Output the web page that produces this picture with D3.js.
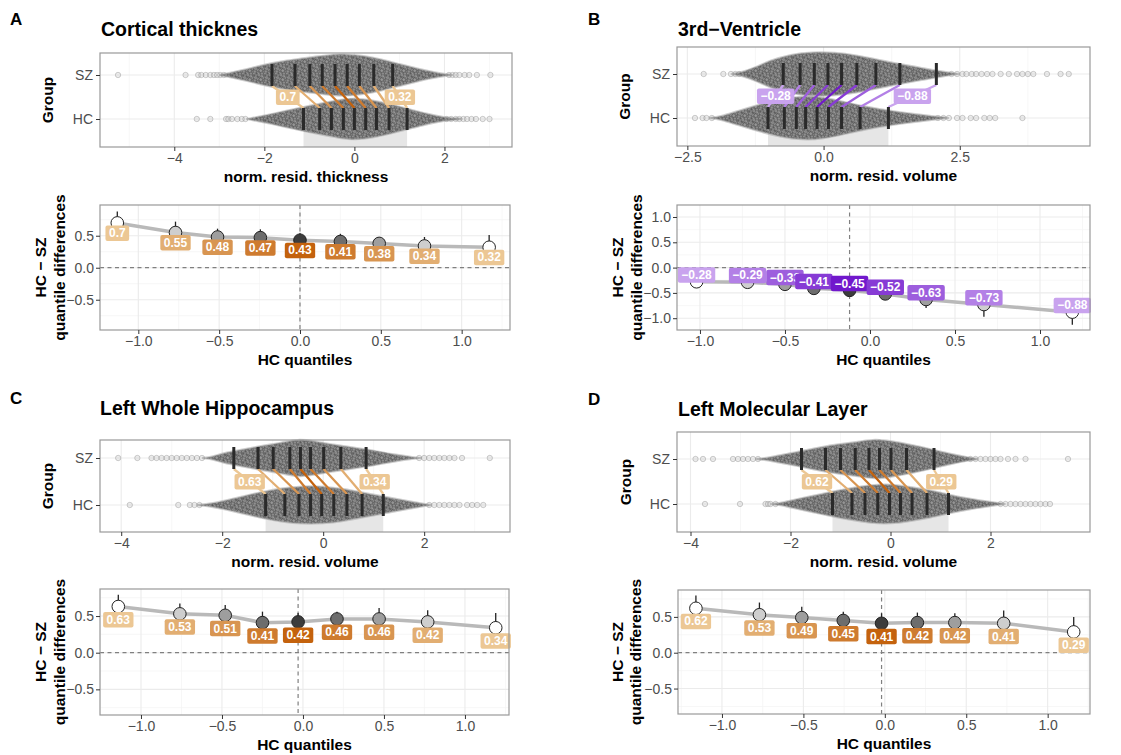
<!DOCTYPE html>
<html>
<head>
<meta charset="utf-8">
<script src="https://cdn.jsdelivr.net/npm/d3@7"></script>
<style>
  body { margin: 0; background: #fff; }
  svg { font-family: "Liberation Sans", Arial, Helvetica, sans-serif; }
</style>
</head>
<body>
<svg id="fig" width="1121" height="755"></svg>
<script>
// ---- data ----
var groups = ["SZ", "HC"];

// A: cortical thickness
var hcA = [-1.13, -0.77, -0.51, -0.245, 0.0, 0.25, 0.49, 0.77, 1.17];
var diffA = [0.7, 0.55, 0.48, 0.47, 0.43, 0.41, 0.38, 0.34, 0.32];
var ciLoA = [0.53, 0.41, 0.38, 0.38, 0.34, 0.32, 0.28, 0.21, 0.16];
var ciHiA = [0.88, 0.72, 0.61, 0.60, 0.54, 0.53, 0.48, 0.48, 0.51];
var szProfA = [[-3.0,0],[-2.9,0.05],[-2.5,0.22],[-2.0,0.5],[-1.5,0.7],[-1.0,0.84],[-0.5,0.97],[-0.2,1.0],[0.2,0.92],[0.6,0.75],[1.0,0.52],[1.4,0.3],[1.8,0.12],[2.1,0.03],[2.2,0]];
var hcProfA = [[-2.4,0],[-2.3,0.04],[-1.8,0.25],[-1.3,0.5],[-0.8,0.72],[-0.3,0.92],[0.0,1.0],[0.4,0.9],[0.8,0.7],[1.2,0.48],[1.6,0.25],[2.0,0.08],[2.3,0.03],[2.4,0]];
var szOutA = [-5.25, -3.75, -3.47, -3.4, -3.3, -3.2, -3.12, -3.05, -2.98, -2.9, 2.1, 2.18, 2.25, 2.33, 2.45, 2.55, 2.72, 3.02];
var hcOutA = [-3.5, -3.2, -2.85, -2.8, -2.72, -2.6, -2.5, -2.42, 2.05, 2.15, 2.25, 2.33, 2.42, 2.5, 2.6, 2.7, 2.85, 3.0];

// B: 3rd ventricle
var hcB = [-1.02, -0.72, -0.5, -0.33, -0.12, 0.09, 0.33, 0.67, 1.19];
var diffB = [-0.28, -0.29, -0.33, -0.41, -0.45, -0.52, -0.63, -0.73, -0.88];
var ciLoB = [-0.4, -0.38, -0.42, -0.5, -0.53, -0.62, -0.8, -0.97, -1.13];
var ciHiB = [-0.16, -0.2, -0.25, -0.33, -0.38, -0.44, -0.5, -0.55, -0.68];
var szProfB = [[-1.7,0],[-1.5,0.08],[-1.25,0.3],[-1.0,0.6],[-0.6,0.9],[-0.2,1.0],[0.2,0.98],[0.6,0.85],[1.0,0.65],[1.4,0.45],[1.8,0.28],[2.2,0.1],[2.5,0]];
var hcProfB = [[-2.1,0],[-1.9,0.06],[-1.6,0.3],[-1.2,0.6],[-0.8,0.86],[-0.4,1.0],[0.0,0.95],[0.4,0.72],[0.8,0.5],[1.2,0.33],[1.6,0.2],[2.0,0.08],[2.3,0]];
var szOutB = [-2.2, -1.84, -1.7, -1.62, -1.55, 2.35, 2.45, 2.55, 2.62, 2.72, 2.8, 2.9, 3.0, 3.1, 3.25, 3.4, 3.55, 3.65, 3.75, 3.85, 4.1, 4.35, 4.5];
var hcOutB = [-2.36, -2.22, -2.15, -2.05, 2.1, 2.2, 2.3, 2.45, 2.55, 2.7, 2.8, 2.95, 3.05, 3.15, 3.65];

// C: left whole hippocampus
var hcC = [-1.14, -0.76, -0.48, -0.25, -0.03, 0.21, 0.47, 0.77, 1.19];
var diffC = [0.63, 0.53, 0.51, 0.41, 0.42, 0.46, 0.46, 0.42, 0.34];
var ciLoC = [0.5, 0.42, 0.4, 0.31, 0.32, 0.36, 0.34, 0.28, 0.2];
var ciHiC = [0.79, 0.67, 0.65, 0.56, 0.54, 0.56, 0.61, 0.58, 0.54];
var szProfC = [[-2.4,0],[-2.2,0.06],[-2.0,0.25],[-1.6,0.45],[-1.2,0.65],[-0.8,0.82],[-0.5,1.0],[-0.2,0.9],[0.2,0.7],[0.6,0.55],[1.0,0.4],[1.4,0.18],[1.8,0.04],[1.95,0]];
var hcProfC = [[-2.5,0],[-2.3,0.05],[-2.0,0.2],[-1.6,0.45],[-1.2,0.7],[-0.8,0.9],[-0.4,1.0],[0.0,0.98],[0.4,0.85],[0.8,0.65],[1.2,0.45],[1.6,0.25],[2.0,0.06],[2.15,0]];
var szOutC = [-4.06, -3.68, -3.4, -3.3, -3.2, -3.1, -3.0, -2.9, -2.8, -2.7, -2.6, -2.5, -2.4, 1.9, 2.0, 2.1, 2.2, 2.3, 2.4, 2.5, 2.6, 2.75, 3.3];
var hcOutC = [-3.83, -2.87, -2.64, -2.55, -2.45, 2.1, 2.2, 2.3, 2.4, 2.5, 2.6, 2.7, 2.85, 2.95, 3.05, 3.17];

// D: left molecular layer
var hcD = [-1.16, -0.77, -0.51, -0.255, -0.02, 0.2, 0.43, 0.73, 1.16];
var diffD = [0.62, 0.53, 0.49, 0.45, 0.41, 0.42, 0.42, 0.41, 0.29];
var ciLoD = [0.48, 0.4, 0.37, 0.34, 0.3, 0.3, 0.3, 0.26, 0.14];
var ciHiD = [0.8, 0.7, 0.64, 0.57, 0.55, 0.56, 0.55, 0.59, 0.5];
var szProfD = [[-2.7,0],[-2.5,0.05],[-2.2,0.2],[-1.8,0.38],[-1.4,0.6],[-1.0,0.75],[-0.6,0.88],[-0.3,1.0],[0.0,0.9],[0.4,0.72],[0.8,0.5],[1.2,0.25],[1.6,0.06],[1.75,0]];
var hcProfD = [[-2.4,0],[-2.2,0.05],[-2.0,0.18],[-1.6,0.38],[-1.2,0.6],[-0.8,0.8],[-0.4,0.95],[0.0,1.0],[0.4,0.85],[0.8,0.68],[1.2,0.45],[1.6,0.25],[2.0,0.1],[2.3,0]];
var szOutD = [-3.9, -3.75, -3.55, -3.15, -3.05, -2.95, -2.85, -2.75, -2.65, 1.6, 1.7, 1.8, 1.9, 2.0, 2.1, 2.2, 2.35, 2.5, 2.7, 3.55];
var hcOutD = [-3.71, -3.01, -2.5, -2.45, -2.4, -2.3, 2.2, 2.3, 2.4, 2.5, 2.6, 2.7, 2.8, 2.9, 3.0, 3.1, 3.19];

// tick values
var topTicksA = [-4, -2, 0, 2];
var topTicksB = [-2.5, 0, 2.5];
var topTicksC = [-4, -2, 0, 2];
var topTicksD = [-4, -2, 0, 2];
var quantTicks = [-1, -0.5, 0, 0.5, 1];
var diffTicksA = [-0.5, 0, 0.5];
var diffTicksB = [-1, -0.5, 0, 0.5, 1];
var diffTicksC = [-0.5, 0, 0.5];
var diffTicksD = [-0.5, 0, 0.5];

// ---- layout ----
var panels = [
  { letter: "A", lx: 10, ly: 25, title: "Cortical thicknes", tx: 101, ty: 36,
    xlab: "norm. resid. thickness", groupX: 48, ylabX: [41, 60],
    hc: hcA, diff: diffA, lo: ciLoA, hi: ciHiA, szProf: szProfA, hcProf: hcProfA, szOut: szOutA, hcOut: hcOutA,
    topTicks: topTicksA, topFmt: d3.format("d"), diffTicks: diffTicksA, neg: false, nudge: 10,
    top: { x0: 100, x1: 512, y0: 53, y1: 147, sz: 75, hc: 119, dom: [-5.65, 3.5], h: 21 },
    bot: { x0: 100, x1: 510, y0: 205, y1: 330, xdom: [-1.237, 1.299], ydom: [-0.973, 0.98] } },
  { letter: "B", lx: 588, ly: 25, title: "3rd\u2212Ventricle", tx: 678, ty: 36,
    xlab: "norm. resid. volume", groupX: 625, ylabX: [618, 637],
    hc: hcB, diff: diffB, lo: ciLoB, hi: ciHiB, szProf: szProfB, hcProf: hcProfB, szOut: szOutB, hcOut: hcOutB,
    topTicks: topTicksB, topFmt: d3.format(".1f"), diffTicks: diffTicksB, neg: true, nudge: -7,
    top: { x0: 677, x1: 1090, y0: 47, y1: 146, sz: 74, hc: 118, dom: [-2.69, 4.89], h: 22 },
    bot: { x0: 677, x1: 1090, y0: 205, y1: 330, xdom: [-1.135, 1.294], ydom: [-1.233, 1.237] } },
  { letter: "C", lx: 10, ly: 404, title: "Left Whole Hippocampus", tx: 100, ty: 415,
    xlab: "norm. resid. volume", groupX: 48, ylabX: [41, 60],
    hc: hcC, diff: diffC, lo: ciLoC, hi: ciHiC, szProf: szProfC, hcProf: hcProfC, szOut: szOutC, hcOut: hcOutC,
    topTicks: topTicksC, topFmt: d3.format("d"), diffTicks: diffTicksC, neg: false, nudge: 13,
    top: { x0: 100, x1: 510, y0: 440, y1: 532, sz: 458, hc: 505, dom: [-4.42, 3.7], h: 19 },
    bot: { x0: 100, x1: 509, y0: 589, y1: 715, xdom: [-1.253, 1.272], ydom: [-0.85, 0.869] } },
  { letter: "D", lx: 588, ly: 405, title: "Left Molecular Layer", tx: 678, ty: 416,
    xlab: "norm. resid. volume", groupX: 626, ylabX: [618, 636],
    hc: hcD, diff: diffD, lo: ciLoD, hi: ciHiD, szProf: szProfD, hcProf: hcProfD, szOut: szOutD, hcOut: hcOutD,
    topTicks: topTicksD, topFmt: d3.format("d"), diffTicks: diffTicksD, neg: false, nudge: 13,
    top: { x0: 677, x1: 1090, y0: 432, y1: 532, sz: 459, hc: 504, dom: [-4.27, 3.99], h: 20 },
    bot: { x0: 678, x1: 1090, y0: 590, y1: 714, xdom: [-1.27, 1.26], ydom: [-0.855, 0.875] } }
];

var svg = d3.select("#fig");
var defs = svg.append("defs");

// beeswarm texture: an irregular tile of open circles
var tileW = 11, tileH = 9;
var pat = defs.append("pattern").attr("id", "swarm")
  .attr("patternUnits", "userSpaceOnUse").attr("width", tileW).attr("height", tileH);
pat.append("rect").attr("width", tileW).attr("height", tileH).attr("fill", "#858585");
var dots = [[1.5,1.2],[5.2,0.8],[8.6,1.9],[3.2,3.6],[6.9,4.1],[0.6,5.3],[9.9,5.6],
            [4.4,6.9],[7.8,7.6],[2.0,8.1],[5.9,2.6],[8.9,4.0],[2.6,5.7]];
dots.forEach(function (p) {
  [[0,0],[tileW,0],[-tileW,0],[0,tileH],[0,-tileH]].forEach(function (o) {
    pat.append("circle").attr("cx", p[0] + o[0]).attr("cy", p[1] + o[1]).attr("r", 1.9)
      .attr("fill", "#a8a8a8").attr("fill-opacity", 0.5)
      .attr("stroke", "#3e3e3e").attr("stroke-width", 0.55).attr("stroke-opacity", 0.8);
  });
});

var greyFill = d3.scaleLinear().domain([0, 4]).range(["#3c3c3c", "#ffffff"]);
var orange = d3.scaleLinear().domain([0, 4]).range(["#c4620d", "#ecc794"]);
var purple = d3.scaleLinear().domain([0, 4]).range(["#7118cc", "#c9a3ee"]);

function labelText(v) { return (v < 0 ? "\u2212" : "") + Math.abs(v); }

function minorOf(ticks, dom) {
  var step = ticks[1] - ticks[0];
  var out = ticks.map(function (v) { return v - step / 2; });
  out.push(ticks[ticks.length - 1] + step / 2);
  out.push(ticks[0] - step * 1.5);
  out.push(ticks[ticks.length - 1] + step * 1.5);
  return out.filter(function (v) { return v > dom[0] && v < dom[1]; });
}

function tag(g, cx, cy, txt, fill) {
  var gg = g.append("g");
  var t = gg.append("text").attr("x", cx).attr("y", cy + 4.2)
    .attr("text-anchor", "middle").attr("font-size", 12).attr("font-weight", "bold")
    .attr("fill", "#fff").text(txt);
  var w = t.node().getComputedTextLength() + 7;
  gg.insert("rect", "text").attr("x", cx - w / 2).attr("y", cy - 7.5)
    .attr("width", w).attr("height", 15.5).attr("rx", 2).attr("fill", fill);
}

function styleAxis(a) {
  a.select(".domain").remove();
  a.selectAll(".tick line").attr("stroke", "#333");
  a.selectAll(".tick text").attr("fill", "#4d4d4d").attr("font-size", 14)
    .attr("font-family", "Liberation Sans, Arial, sans-serif");
}

function drawPanel(p) {
  var col = p.neg ? purple : orange;
  var g = svg.append("g");
  var sz = p.hc.map(function (v, i) { return v - p.diff[i]; });

  g.append("text").attr("x", p.lx).attr("y", p.ly).attr("font-size", 17)
    .attr("font-weight", "bold").text(p.letter);
  g.append("text").attr("x", p.tx).attr("y", p.ty).attr("font-size", 19.5)
    .attr("font-weight", "bold").text(p.title);

  // ---------- top: beeswarm + deciles ----------
  var t = p.top;
  var x = d3.scaleLinear().domain(t.dom).range([t.x0, t.x1]);
  var y = d3.scalePoint().domain(groups).range([t.sz, t.hc]);
  var dens = d3.scaleLinear().domain([0, 1]).range([0, t.h]);
  var top = g.append("g");

  top.selectAll(".vmin").data(minorOf(p.topTicks, t.dom)).enter().append("line")
    .attr("x1", x).attr("x2", x).attr("y1", t.y0).attr("y2", t.y1)
    .attr("stroke", "#f3f3f3").attr("stroke-width", 0.7);
  top.selectAll(".vmaj").data(p.topTicks).enter().append("line")
    .attr("x1", x).attr("x2", x).attr("y1", t.y0).attr("y2", t.y1)
    .attr("stroke", "#ebebeb").attr("stroke-width", 1.1);
  top.selectAll(".hmaj").data(groups).enter().append("line")
    .attr("x1", t.x0).attr("x2", t.x1).attr("y1", y).attr("y2", y)
    .attr("stroke", "#ebebeb").attr("stroke-width", 1.1);

  top.append("rect").attr("x", x(p.hc[0])).attr("y", y("HC"))
    .attr("width", x(p.hc[8]) - x(p.hc[0])).attr("height", t.y1 - y("HC"))
    .attr("fill", "#e6e6e6");

  [["SZ", p.szOut], ["HC", p.hcOut]].forEach(function (s) {
    top.selectAll(null).data(s[1]).enter().append("circle")
      .attr("cx", x).attr("cy", y(s[0])).attr("r", 2.7)
      .attr("fill", "#c8c8c8").attr("fill-opacity", 0.35)
      .attr("stroke", "#6e6e6e").attr("stroke-opacity", 0.45).attr("stroke-width", 0.7);
  });

  [["SZ", p.szProf], ["HC", p.hcProf]].forEach(function (s) {
    var yc = y(s[0]);
    var area = d3.area().curve(d3.curveBasis)
      .x(function (d) { return x(d[0]); })
      .y0(function (d) { return yc - dens(d[1]); })
      .y1(function (d) { return yc + dens(d[1]); });
    top.append("path").datum(s[1]).attr("d", area)
      .attr("fill", "url(#swarm)").attr("stroke", "#a0a0a0")
      .attr("stroke-width", 2).attr("stroke-opacity", 0.5);
  });

  // links between matching deciles
  top.selectAll(".link").data(p.hc).enter().append("line")
    .attr("x1", function (d, i) { return x(sz[i]); }).attr("y1", y("SZ") + 11)
    .attr("x2", function (d) { return x(d); }).attr("y2", y("HC") - 11)
    .attr("stroke", function (d, i) { return col(Math.abs(i - 4)); })
    .attr("stroke-width", 2.3);

  // decile markers
  [["SZ", sz], ["HC", p.hc]].forEach(function (s) {
    top.selectAll(null).data(s[1]).enter().append("line")
      .attr("x1", x).attr("x2", x)
      .attr("y1", y(s[0]) - 11).attr("y2", y(s[0]) + 11)
      .attr("stroke", "#2a2a2a").attr("stroke-width", 3);
  });

  [0, 8].forEach(function (i) {
    tag(top, (x(sz[i]) + x(p.hc[i])) / 2, (y("SZ") + y("HC")) / 2,
      labelText(p.diff[i]), col(4));
  });

  top.append("rect").attr("x", t.x0).attr("y", t.y0)
    .attr("width", t.x1 - t.x0).attr("height", t.y1 - t.y0)
    .attr("fill", "none").attr("stroke", "#999").attr("stroke-width", 1.2);

  var ax = top.append("g").attr("transform", "translate(0," + t.y1 + ")")
    .call(d3.axisBottom(x).tickValues(p.topTicks).tickFormat(p.topFmt)
      .tickSizeInner(4).tickSizeOuter(0).tickPadding(2));
  styleAxis(ax);
  var ay = top.append("g").attr("transform", "translate(" + t.x0 + ",0)")
    .call(d3.axisLeft(y).tickSizeInner(4).tickSizeOuter(0).tickPadding(3));
  styleAxis(ay);

  top.append("text").attr("x", (t.x0 + t.x1) / 2).attr("y", t.y1 + 35)
    .attr("text-anchor", "middle").attr("font-size", 15.5).attr("font-weight", "bold")
    .text(p.xlab);
  top.append("text").attr("transform", "translate(" + (p.groupX + 5) + "," + ((t.y0 + t.y1) / 2) + ") rotate(-90)")
    .attr("text-anchor", "middle").attr("font-size", 15.5).attr("font-weight", "bold")
    .text("Group");

  // ---------- bottom: shift function ----------
  var b = p.bot;
  var bx = d3.scaleLinear().domain(b.xdom).range([b.x0, b.x1]);
  var by = d3.scaleLinear().domain(b.ydom).range([b.y1, b.y0]);
  var bot = g.append("g");

  bot.selectAll(".vmin").data(minorOf(quantTicks, b.xdom)).enter().append("line")
    .attr("x1", bx).attr("x2", bx).attr("y1", b.y0).attr("y2", b.y1)
    .attr("stroke", "#f3f3f3").attr("stroke-width", 0.7);
  bot.selectAll(".hmin").data(minorOf(p.diffTicks, b.ydom)).enter().append("line")
    .attr("x1", b.x0).attr("x2", b.x1).attr("y1", by).attr("y2", by)
    .attr("stroke", "#f3f3f3").attr("stroke-width", 0.7);
  bot.selectAll(".vmaj").data(quantTicks).enter().append("line")
    .attr("x1", bx).attr("x2", bx).attr("y1", b.y0).attr("y2", b.y1)
    .attr("stroke", "#ebebeb").attr("stroke-width", 1.1);
  bot.selectAll(".hmaj").data(p.diffTicks).enter().append("line")
    .attr("x1", b.x0).attr("x2", b.x1).attr("y1", by).attr("y2", by)
    .attr("stroke", "#ebebeb").attr("stroke-width", 1.1);

  bot.append("line").attr("x1", b.x0).attr("x2", b.x1).attr("y1", by(0)).attr("y2", by(0))
    .attr("stroke", "#808080").attr("stroke-width", 1.2).attr("stroke-dasharray", "4,3.5");
  bot.append("line").attr("x1", bx(p.hc[4])).attr("x2", bx(p.hc[4])).attr("y1", b.y0).attr("y2", b.y1)
    .attr("stroke", "#808080").attr("stroke-width", 1.2).attr("stroke-dasharray", "4,3.5");

  var line = d3.line().x(function (d) { return bx(d); })
    .y(function (d, i) { return by(p.diff[i]); });
  bot.append("path").datum(p.hc).attr("d", line).attr("fill", "none")
    .attr("stroke", "#b9b9b9").attr("stroke-width", 3.5).attr("stroke-linecap", "round");

  bot.selectAll(".err").data(p.hc).enter().append("line")
    .attr("x1", bx).attr("x2", bx)
    .attr("y1", function (d, i) { return by(p.lo[i]); })
    .attr("y2", function (d, i) { return by(p.hi[i]); })
    .attr("stroke", "#222").attr("stroke-width", 1.3);

  bot.selectAll(".pt").data(p.hc).enter().append("circle")
    .attr("cx", bx).attr("cy", function (d, i) { return by(p.diff[i]); })
    .attr("r", 6.3).attr("fill", function (d, i) { return greyFill(Math.abs(i - 4)); })
    .attr("stroke", "#222").attr("stroke-width", 1);

  p.hc.forEach(function (v, i) {
    tag(bot, bx(v), by(p.diff[i]) + p.nudge, labelText(p.diff[i]), col(Math.abs(i - 4)));
  });

  bot.append("rect").attr("x", b.x0).attr("y", b.y0)
    .attr("width", b.x1 - b.x0).attr("height", b.y1 - b.y0)
    .attr("fill", "none").attr("stroke", "#999").attr("stroke-width", 1.2);

  var bax = bot.append("g").attr("transform", "translate(0," + b.y1 + ")")
    .call(d3.axisBottom(bx).tickValues(quantTicks).tickFormat(d3.format(".1f"))
      .tickSizeInner(4).tickSizeOuter(0).tickPadding(2));
  styleAxis(bax);
  var bay = bot.append("g").attr("transform", "translate(" + b.x0 + ",0)")
    .call(d3.axisLeft(by).tickValues(p.diffTicks).tickFormat(d3.format(".1f"))
      .tickSizeInner(4).tickSizeOuter(0).tickPadding(2));
  styleAxis(bay);

  bot.append("text").attr("x", (b.x0 + b.x1) / 2).attr("y", b.y1 + 35)
    .attr("text-anchor", "middle").attr("font-size", 15.5).attr("font-weight", "bold")
    .text("HC quantiles");
  ["HC \u2212 SZ", "quantile differences"].forEach(function (s, k) {
    bot.append("text").attr("transform", "translate(" + (p.ylabX[k] + 5) + "," + ((b.y0 + b.y1) / 2) + ") rotate(-90)")
      .attr("text-anchor", "middle").attr("font-size", 15.5).attr("font-weight", "bold")
      .text(s);
  });
}

panels.forEach(drawPanel);
</script>
</body>
</html>
